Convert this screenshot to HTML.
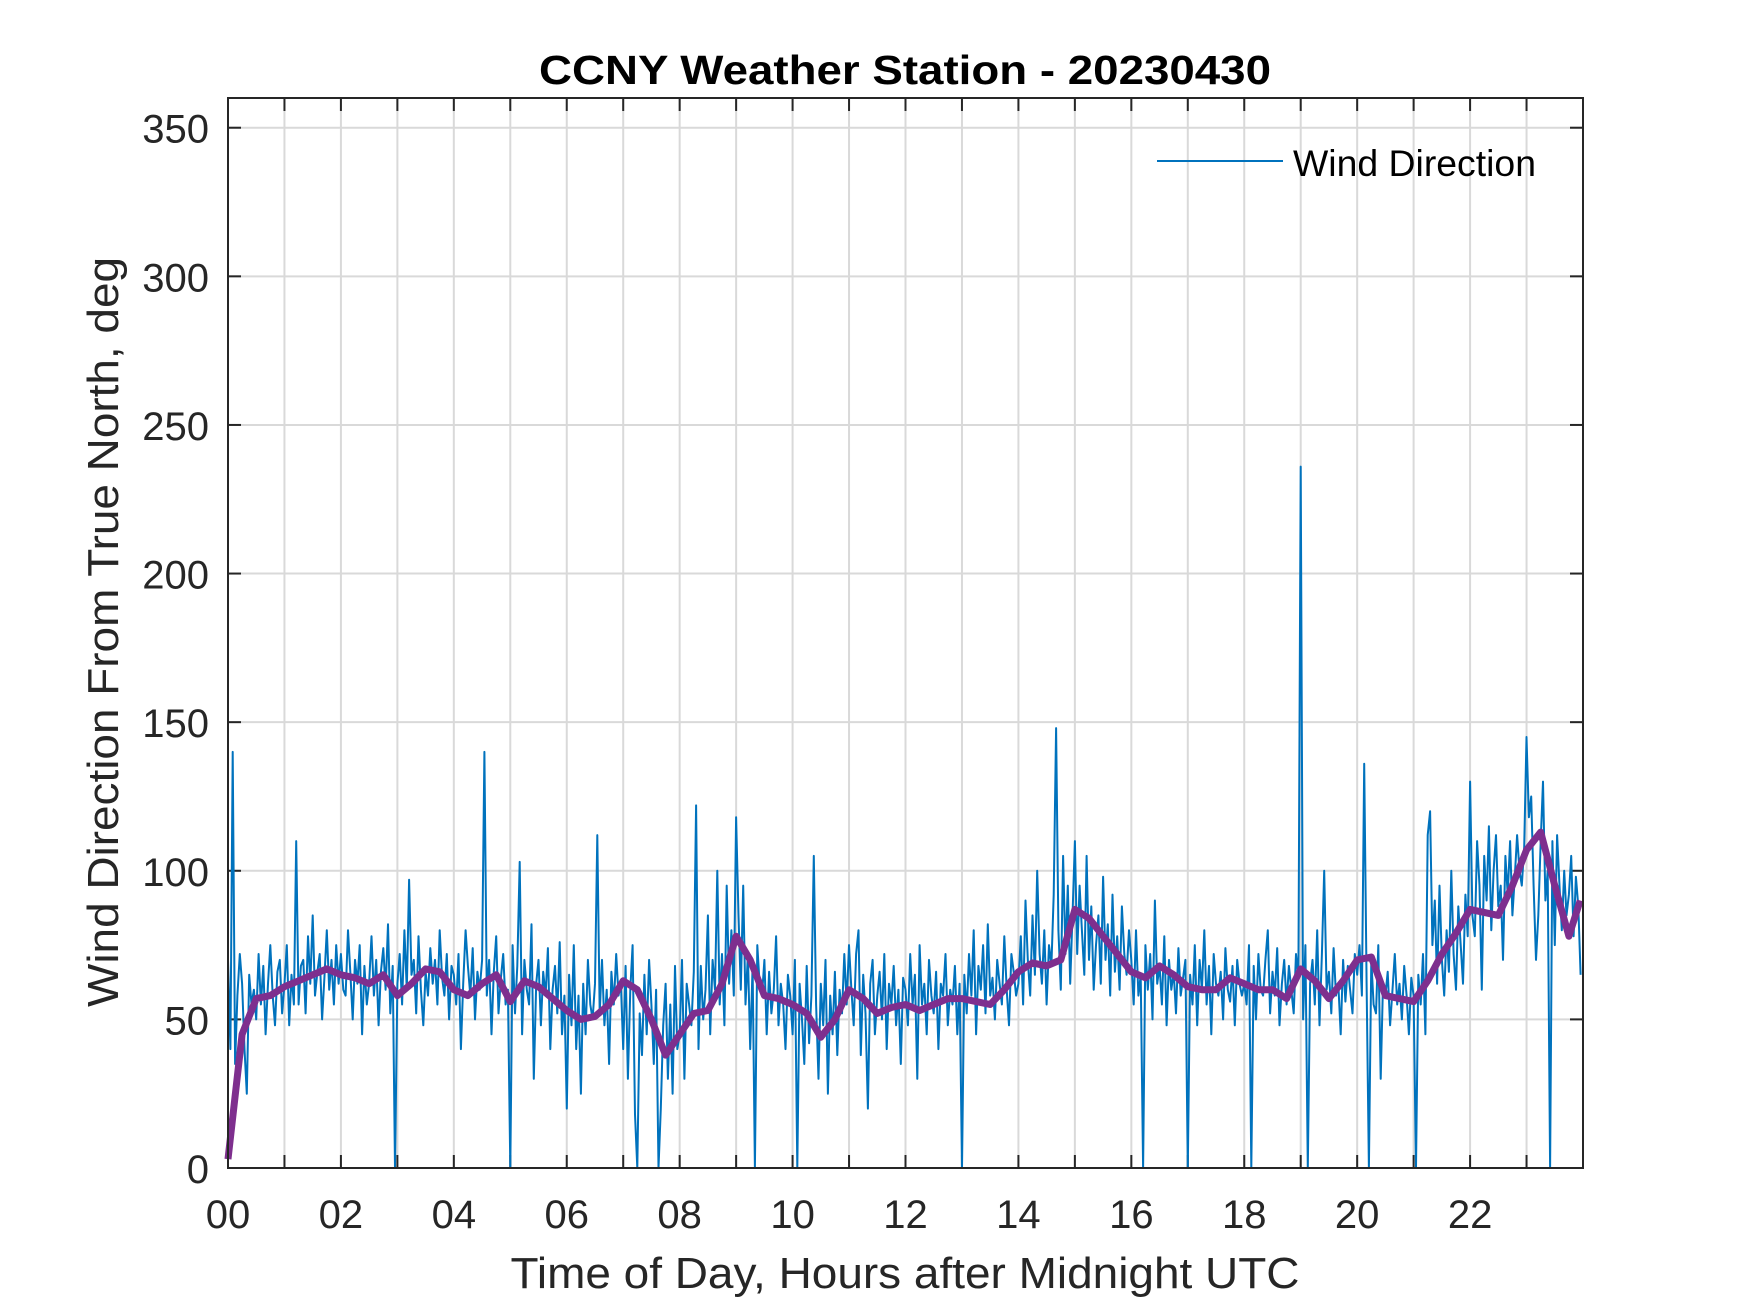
<!DOCTYPE html>
<html><head><meta charset="utf-8"><style>
html,body{margin:0;padding:0;background:#fff;}
svg{display:block;font-family:"Liberation Sans",Arial,sans-serif;}
</style></head><body>
<svg id="chart" width="1750" height="1313" viewBox="0 0 1750 1313">
<rect x="0" y="0" width="1750" height="1313" fill="#fff"/>
<g id="grid"></g>
<g id="ticks"></g>
<g id="series"></g>
<rect x="228" y="98" width="1355" height="1070" fill="none" stroke="#262626" stroke-width="2"/>
<text x="905" y="84" text-anchor="middle" font-size="41" font-weight="bold" fill="#000" textLength="732" lengthAdjust="spacingAndGlyphs">CCNY Weather Station - 20230430</text>
<text x="905" y="1288" text-anchor="middle" font-size="44" fill="#262626" textLength="789" lengthAdjust="spacingAndGlyphs">Time of Day, Hours after Midnight UTC</text>
<text transform="translate(118,632) rotate(-90)" text-anchor="middle" font-size="44" fill="#262626" textLength="750" lengthAdjust="spacingAndGlyphs">Wind Direction From True North, deg</text>
<g>
<line x1="1157" y1="161" x2="1283" y2="161" stroke="#0072BD" stroke-width="2"/>
<text x="1293" y="176" font-size="37" fill="#000" textLength="243" lengthAdjust="spacingAndGlyphs">Wind Direction</text>
</g>
</svg>
<script>
const xTickLabels = ["00","02","04","06","08","10","12","14","16","18","20","22"];
const yTickValues = [0,50,100,150,200,250,300,350];
const windRaw = [
70,40,140,35,58,72,62,40,25,65,55,60,50,72,55,68,45,62,75,58,48,66,70,52,
62,75,48,65,55,110,55,68,70,52,78,62,85,58,66,72,50,64,80,60,70,55,75,62,
72,60,58,80,66,50,70,62,75,45,68,55,62,78,58,70,48,66,74,60,82,52,68,0,
62,72,55,80,60,97,65,70,52,78,60,48,66,58,74,62,70,55,80,64,58,72,50,68,
65,55,72,40,62,80,68,58,74,50,66,60,70,140,58,70,45,66,78,52,64,72,55,60,
0,75,52,68,103,45,70,60,55,82,30,62,70,48,66,58,74,40,60,68,52,76,45,58,
20,65,48,75,40,58,25,62,45,70,55,50,62,112,52,70,48,60,35,66,55,72,58,62,
40,68,30,60,75,18,0,52,38,65,45,70,55,35,60,0,20,48,62,30,55,25,68,40,
45,70,30,62,55,48,66,122,40,68,50,60,85,45,70,60,100,55,72,48,95,62,80,58,
118,85,60,95,55,72,40,68,0,75,62,58,70,45,66,52,60,78,48,62,55,40,65,58,
45,70,0,62,50,35,68,42,58,105,55,30,62,48,70,25,58,45,66,38,60,52,72,55,
75,60,48,72,80,38,65,52,20,62,70,45,58,66,50,72,40,62,55,68,48,60,35,64,
60,48,72,55,65,30,75,55,62,45,70,58,52,66,40,62,58,72,48,60,55,68,45,62,
0,65,52,72,58,80,45,68,60,75,52,82,58,64,50,70,62,55,78,60,48,72,66,58,
62,78,55,90,70,58,85,65,100,72,62,80,55,75,68,92,148,80,60,105,72,95,62,85,
110,72,95,80,65,105,70,88,60,75,85,62,98,70,82,58,92,66,78,60,88,72,65,80,
70,55,80,58,65,0,75,60,72,50,90,62,68,55,78,48,70,60,66,52,74,58,64,70,
0,65,55,75,48,70,60,80,55,68,45,72,62,58,66,50,74,60,56,68,48,70,62,58,
62,55,75,0,68,50,72,60,58,70,80,52,66,58,74,48,62,70,55,68,60,52,72,64,
236,50,75,0,62,70,55,80,48,72,100,60,66,52,74,58,62,45,70,56,68,60,52,72,
65,75,58,136,62,0,70,55,52,75,30,62,58,66,48,60,72,55,62,50,68,58,45,64,
58,0,65,55,72,45,112,120,75,90,62,95,70,58,80,66,100,72,60,88,75,62,92,78,
130,85,78,110,95,60,105,90,115,80,100,112,88,95,70,105,92,110,85,98,112,100,95,108,
145,118,125,95,70,85,110,130,90,100,0,110,75,112,95,80,100,85,92,105,78,98,88,65
];
const windSmooth = [3,45,57,58,61,63,65,67,65,64,62,65,58,62,67,66,60,58,62,65,56,63,61,57,53,50,51,55,63,60,50,38,45,52,53,62,78,70,58,57,55,52,44,50,60,57,52,54,55,53,55,57,57,56,55,60,66,69,68,70,87,84,78,72,66,64,68,65,61,60,60,64,62,60,60,57,67,63,57,63,70,71,58,57,56,63,72,79,87,86,85,95,107,113,95,78,90];

const L=228,R=1583,T=98,B=1168,XMAX=24,YMAX=360;
const xs=h=>L+(R-L)*h/XMAX;
const ys=v=>B-(B-T)*v/YMAX;
const NS='http://www.w3.org/2000/svg';
const grid=document.getElementById('grid'),ticks=document.getElementById('ticks'),series=document.getElementById('series');
function mk(tag,attrs,parent){const e=document.createElementNS(NS,tag);for(const k in attrs)e.setAttribute(k,attrs[k]);parent.appendChild(e);return e;}
for(let h=1;h<XMAX;h++){
  const x=xs(h);
  const g=mk('line',{x1:x,y1:T,x2:x,y2:B,stroke:'#d9d9d9','stroke-width':2},grid);
  
  
  const t1=mk('line',{x1:x,y1:B,x2:x,y2:B-13,stroke:'#262626','stroke-width':2},ticks);
  
  
  const t2=mk('line',{x1:x,y1:T,x2:x,y2:T+13,stroke:'#262626','stroke-width':2},ticks);
  
  
}
xTickLabels.forEach((lab,i)=>{
  const t=mk('text',{x:xs(i*2),y:1228,'text-anchor':'middle','font-size':40,fill:'#262626'},ticks);
  t.textContent=lab;
  
  
});
yTickValues.forEach(v=>{
  const y=ys(v);
  if(v>0){
    const g=mk('line',{x1:L,y1:y,x2:R,y2:y,stroke:'#d9d9d9','stroke-width':2},grid);
    
    
  }
  const t1=mk('line',{x1:L,y1:y,x2:L+13,y2:y,stroke:'#262626','stroke-width':2},ticks);
  
  
  const t2=mk('line',{x1:R,y1:y,x2:R-13,y2:y,stroke:'#262626','stroke-width':2},ticks);
  
  
  const t=mk('text',{x:209,y:y+15,'text-anchor':'end','font-size':40,fill:'#262626'},ticks);
  t.textContent=v;
  
  
});
const n=windRaw.length;
const rawPts=windRaw.map((v,i)=>xs(i*XMAX/n).toFixed(1)+','+ys(v).toFixed(1)).join(' ');
const pl=mk('polyline',{points:rawPts,fill:'none',stroke:'#0072BD','stroke-width':2,'stroke-linejoin':'round'},series);


const smPts=windSmooth.map((v,i)=>xs(Math.min(i*0.25,23.95)).toFixed(1)+','+ys(v).toFixed(1)).join(' ');
const sl=mk('polyline',{points:smPts,fill:'none',stroke:'#7E2F8E','stroke-width':7,'stroke-linejoin':'round'},series);


</script>
</body></html>
